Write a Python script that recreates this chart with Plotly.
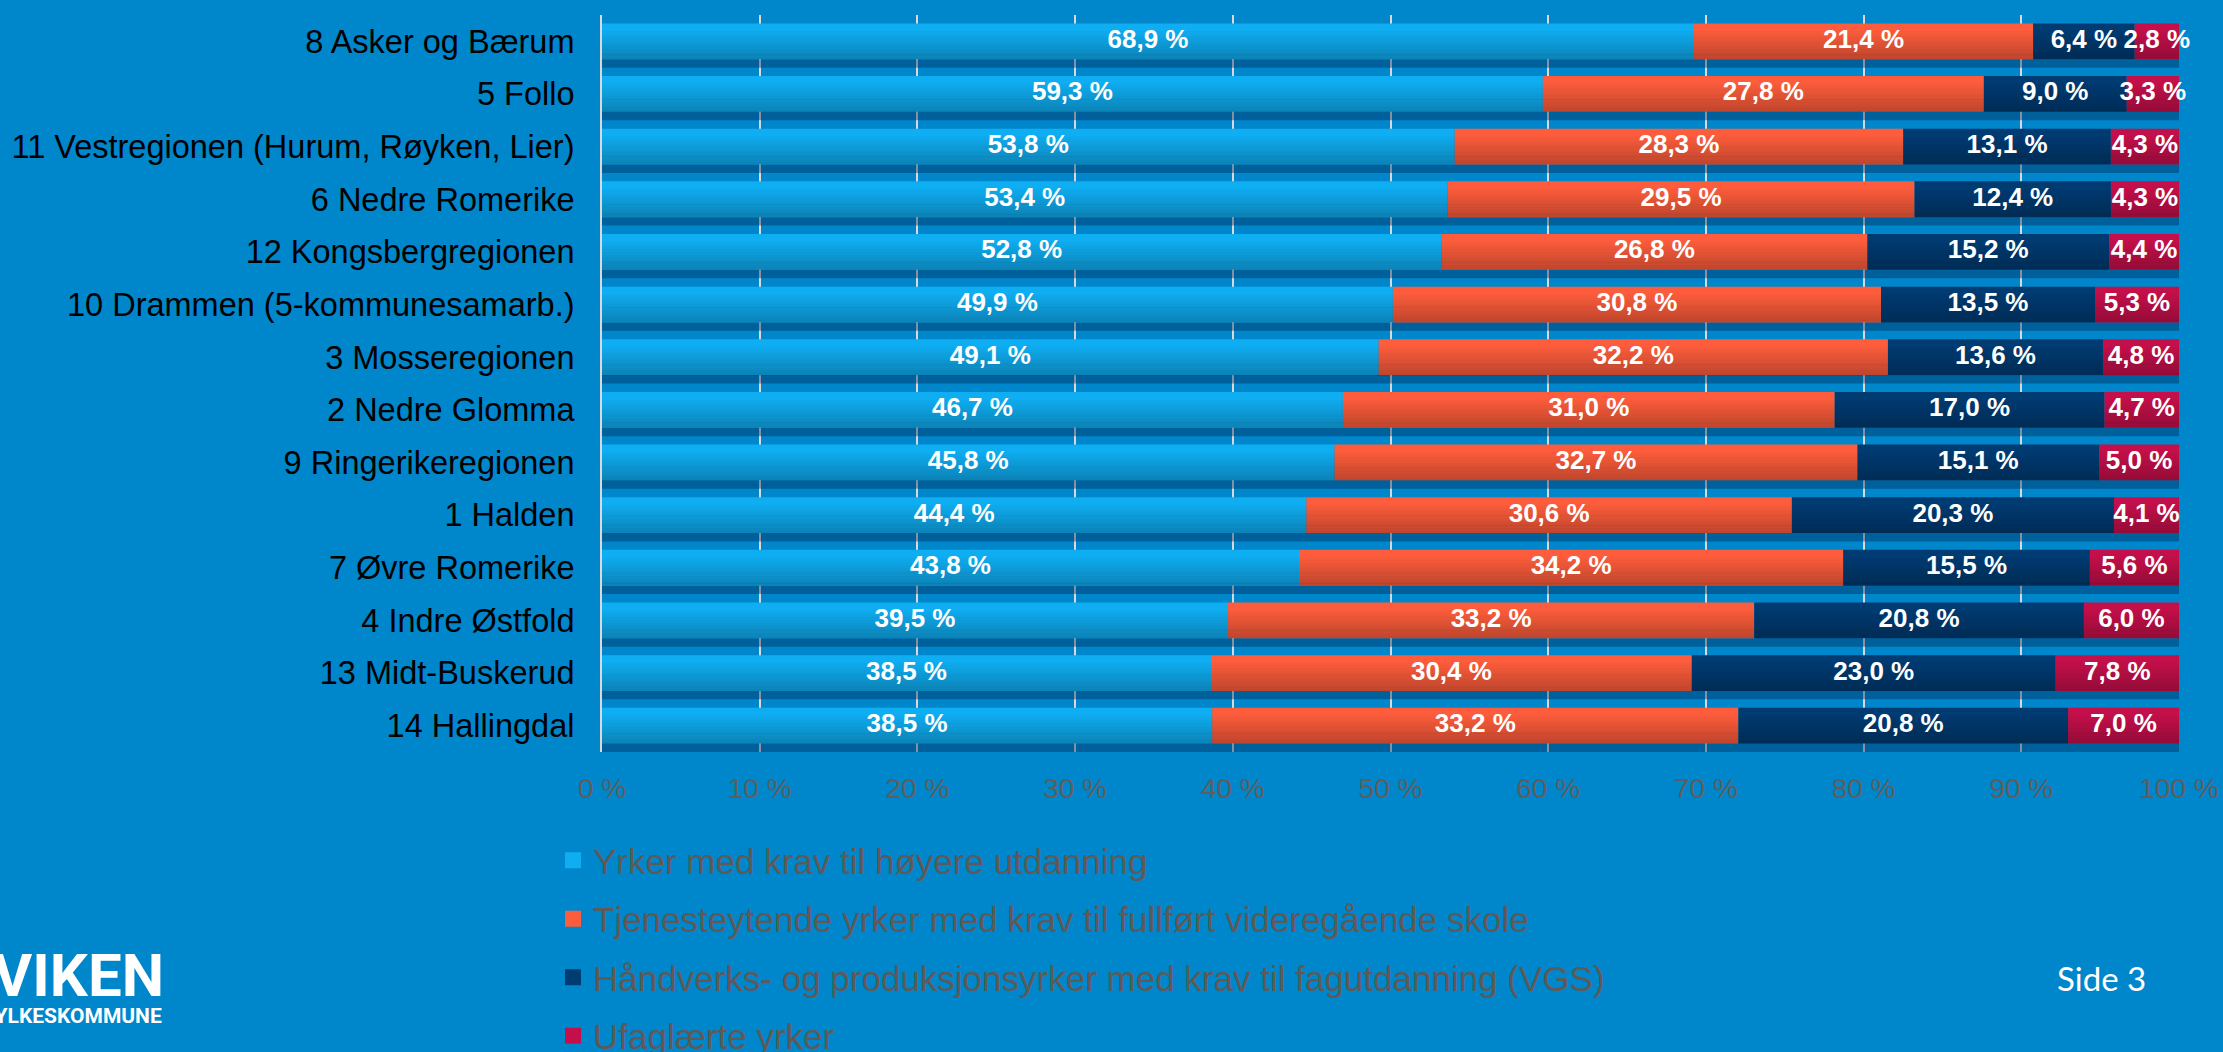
import plotly.graph_objects as go

# ---------------- data ----------------
categories = [
    "8 Asker og Bærum",
    "5 Follo",
    "11 Vestregionen (Hurum, Røyken, Lier)",
    "6 Nedre Romerike",
    "12 Kongsbergregionen",
    "10 Drammen (5-kommunesamarb.)",
    "3 Mosseregionen",
    "2 Nedre Glomma",
    "9 Ringerikeregionen",
    "1 Halden",
    "7 Øvre Romerike",
    "4 Indre Østfold",
    "13 Midt-Buskerud",
    "14 Hallingdal",
]
higher_ed = [68.9, 59.3, 53.8, 53.4, 52.8, 49.9, 49.1, 46.7, 45.8, 44.4, 43.8, 39.5, 38.5, 38.5]
service = [21.4, 27.8, 28.3, 29.5, 26.8, 30.8, 32.2, 31.0, 32.7, 30.6, 34.2, 33.2, 30.4, 33.2]
craft = [6.4, 9.0, 13.1, 12.4, 15.2, 13.5, 13.6, 17.0, 15.1, 20.3, 15.5, 20.8, 23.0, 20.8]
unskilled = [2.8, 3.3, 4.3, 4.3, 4.4, 5.3, 4.8, 4.7, 5.0, 4.1, 5.6, 6.0, 7.8, 7.0]

series_names = [
    "Yrker med krav til høyere utdanning",
    "Tjenesteytende yrker med krav til fullført videregående skole",
    "Håndverks- og produksjonsyrker med krav til fagutdanning (VGS)",
    "Ufaglærte yrker",
]
x_tick_values = [0, 10, 20, 30, 40, 50, 60, 70, 80, 90, 100]
x_tick_labels = ["0 %", "10 %", "20 %", "30 %", "40 %", "50 %", "60 %", "70 %", "80 %", "90 %", "100 %"]

# ---------------- style ----------------
BG = "#0086CB"
COLORS = ["#0FAEF2", "#FD5D3C", "#003B72", "#C4104A"]
W, H = 2223, 1052
L, R, T, B = 602, 2179, 15, 752
BAR_W = 0.68


def px2paper_x(px):
    return (px - L) / (R - L)


def px2paper_y(py):
    return (B - py) / (B - T)


all_series = [higher_ed, service, craft, unskilled]
totals = [sum(v) for v in zip(*all_series)]
norm = [[v / t * 100 for v, t in zip(s, totals)] for s in all_series]

fig = go.Figure()

# shadow below each bar
fig.add_trace(go.Bar(
    y=categories, x=[sum(v) for v in zip(*norm)], base=0, orientation="h",
    width=0.16, offset=BAR_W / 2, marker=dict(color="rgba(0,40,85,0.40)", line_width=0),
    showlegend=False, hoverinfo="skip",
))

bases = []
running = [0.0] * len(categories)
for i, (name, s) in enumerate(zip(series_names, norm)):
    bases.append(list(running))
    fig.add_trace(go.Bar(
        y=categories, x=s, base=list(running), orientation="h", name=name,
        width=BAR_W, marker=dict(color=COLORS[i], line_width=0),
        showlegend=False, hoverinfo="skip",
    ))
    running = [r + v for r, v in zip(running, s)]

# vertical shading to imitate gradient
n_strips = 14
sw = BAR_W / n_strips
for k in range(n_strips):
    a = 0.24 * max(0.0, (k - 2)) / (n_strips - 3)
    if a <= 0:
        continue
    fig.add_trace(go.Bar(
        y=categories, x=running, base=0, orientation="h",
        width=sw * 1.02, offset=-BAR_W / 2 + k * sw,
        marker=dict(color=f"rgba(0,0,0,{a:.3f})", line_width=0),
        showlegend=False, hoverinfo="skip",
    ))

# labels
for i, (raw, s) in enumerate(zip(all_series, norm)):
    fig.add_trace(go.Scatter(
        y=categories, x=[b + v / 2 for b, v in zip(bases[i], s)],
        mode="text",
        text=[f"{v:.1f}".replace(".", ",") + " %" for v in raw],
        textposition="middle center",
        textfont=dict(family="Liberation Sans", size=26, color="white", weight="bold"),
        showlegend=False, hoverinfo="skip", cliponaxis=False,
    ))

# legend entries (square swatches)
for i, name in enumerate(series_names):
    fig.add_trace(go.Scatter(
        x=[None], y=[None], mode="markers", name=name,
        marker=dict(symbol="square", size=16, color=COLORS[i], line_width=0),
        legendgroup=f"g{i}", hoverinfo="skip",
    ))

fig.update_layout(
    width=W, height=H,
    paper_bgcolor=BG, plot_bgcolor=BG,
    barmode="overlay",
    margin=dict(l=L, r=W - R, t=T, b=H - B, pad=0, autoexpand=False),
    hovermode=False,
    font=dict(family="Liberation Sans"),
    xaxis=dict(
        range=[0, 100], tickmode="array", tickvals=x_tick_values, ticktext=x_tick_labels,
        showgrid=True, gridcolor="#D9D9D9", gridwidth=1.5,
        zeroline=False, showline=False,
        ticks="outside", ticklen=11, tickcolor="rgba(0,0,0,0)",
        tickfont=dict(family="Liberation Sans", size=28, color="#5E5E5E"),
        automargin=False, fixedrange=True,
    ),
    yaxis=dict(
        categoryorder="array", categoryarray=categories,
        range=[len(categories) - 0.5, -0.5],
        showgrid=False, zeroline=False,
        showline=True, linecolor="#D9D9D9", linewidth=2,
        ticks="outside", ticklen=19, tickcolor="rgba(0,0,0,0)",
        tickfont=dict(family="Liberation Sans", size=32.5, color="#000000"),
        automargin=False, fixedrange=True,
    ),
    legend=dict(
        x=px2paper_x(553), y=px2paper_y(831), xanchor="left", yanchor="top",
        orientation="v", traceorder="grouped", tracegroupgap=10,
        itemsizing="trace",
        font=dict(family="Liberation Sans", size=35, color="#5F5957"),
        bgcolor="rgba(0,0,0,0)", itemclick=False, itemdoubleclick=False,
    ),
    showlegend=True,
)

fig.add_annotation(
    text="VIKEN", xref="paper", yref="paper",
    x=px2paper_x(166), y=px2paper_y(975), xanchor="right", yanchor="middle",
    showarrow=False, font=dict(family="Roboto", size=60, color="white", weight="bold"),
)
fig.add_annotation(
    text="FYLKESKOMMUNE", xref="paper", yref="paper",
    x=px2paper_x(164), y=px2paper_y(1016), xanchor="right", yanchor="middle",
    showarrow=False, font=dict(family="Roboto", size=21, color="white", weight="bold"),
)
fig.add_annotation(
    text="Side 3", xref="paper", yref="paper",
    x=px2paper_x(2101), y=px2paper_y(978), xanchor="center", yanchor="middle",
    showarrow=False, font=dict(family="Lato", size=33, color="white"),
)

fig.write_html(
    "out.html",
    config={"displayModeBar": False},
    post_script="document.body.style.margin='0';document.body.style.background='" + BG + "';",
)
